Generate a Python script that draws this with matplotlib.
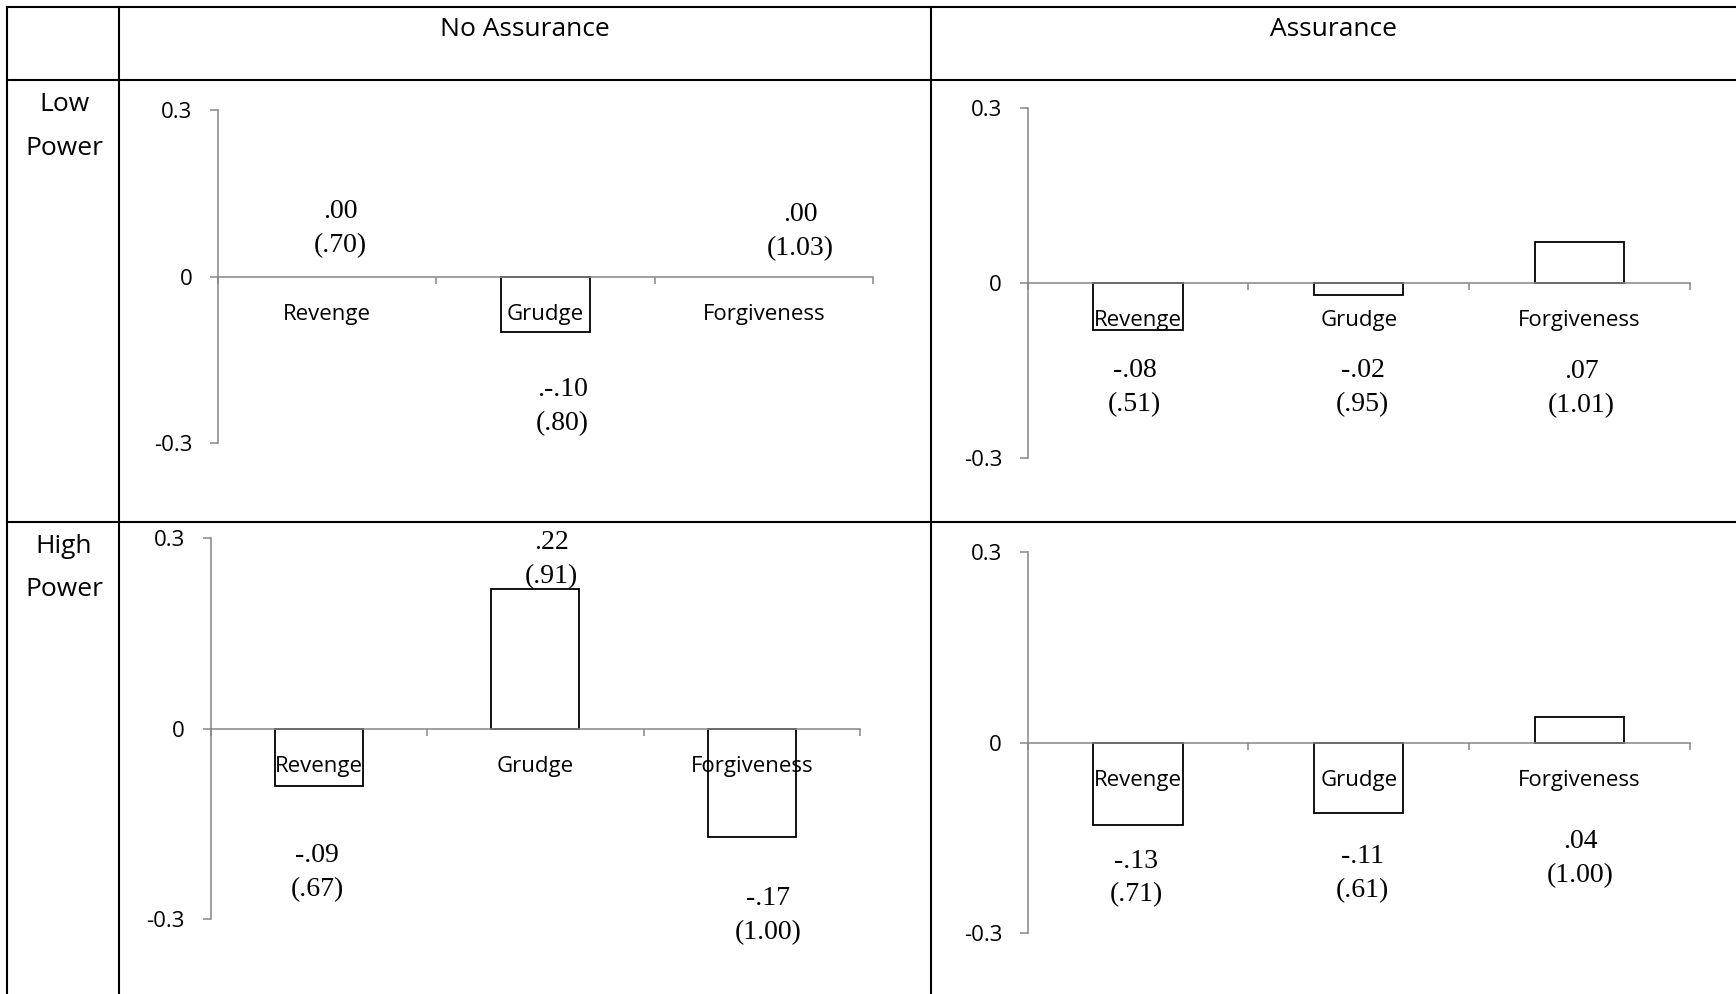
import matplotlib
matplotlib.use("Agg")
import matplotlib.pyplot as plt
from matplotlib.lines import Line2D

# ---------------- data ----------------
categories = ["Revenge", "Grudge", "Forgiveness"]
column_titles = ["No Assurance", "Assurance"]
row_titles = [["Low", "Power"], ["High", "Power"]]

no_assure_low_means = [0.00, -0.10, 0.00]
no_assure_low_mtext = [".00", ".-.10", ".00"]
no_assure_low_sds = ["(.70)", "(.80)", "(1.03)"]

assure_low_means = [-0.08, -0.02, 0.07]
assure_low_mtext = ["-.08", "-.02", ".07"]
assure_low_sds = ["(.51)", "(.95)", "(1.01)"]

no_assure_high_means = [-0.09, 0.22, -0.17]
no_assure_high_mtext = ["-.09", ".22", "-.17"]
no_assure_high_sds = ["(.67)", "(.91)", "(1.00)"]

assure_high_means = [-0.13, -0.11, 0.04]
assure_high_mtext = ["-.13", "-.11", ".04"]
assure_high_sds = ["(.71)", "(.61)", "(1.00)"]

y_ticks = [-0.3, 0.0, 0.3]
y_tick_labels = ["-0.3", "0", "0.3"]

# ---------------- layout (pixels) ----------------
W, H = 1736, 994
fig = plt.figure(figsize=(W / 100, H / 100), dpi=100)

SANS = ["Open Sans", "DejaVu Sans"]
SERIF = ["Liberation Serif", "DejaVu Serif"]
GREY = "#868686"


def fx(x):
    return x / W


def fy(y):
    return 1 - y / H


# table lines
lw_tab = 1.5
for y in [7, 80, 521.7]:
    fig.add_artist(Line2D([fx(7), fx(W)], [fy(y), fy(y)], color="black", lw=lw_tab))
for x in [7, 119, 930.7]:
    fig.add_artist(Line2D([fx(x), fx(x)], [fy(7), fy(H)], color="black", lw=lw_tab))

# headers
fig.text(fx(525), fy(30), column_titles[0], ha="center", va="center", fontsize=19, family=SANS)
fig.text(fx(1334), fy(30), column_titles[1], ha="center", va="center", fontsize=19, family=SANS)
for (l1, l2), (y1, y2) in zip(row_titles, [(104.5, 148.5), (546.5, 590)]):
    fig.text(fx(64), fy(y1), l1, ha="center", va="center", fontsize=19, family=SANS)
    fig.text(fx(64), fy(y2), l2, ha="center", va="center", fontsize=19, family=SANS)

panels = [
    # (x0, x1, ytop, ybot), means, mean texts, sd texts, label centres (x, y data)
    ((218, 873, 110, 443.4), no_assure_low_means, no_assure_low_mtext, no_assure_low_sds,
     [(0.06, 0.086), (1.078, -0.233), (2.168, 0.082)]),
    ((1027.8, 1689.8, 108.3, 458.3), assure_low_means, assure_low_mtext, assure_low_sds,
     [(-0.017, -0.178), (1.017, -0.178), (2.01, -0.180)]),
    ((210.6, 860, 538.3, 919.3), no_assure_high_means, no_assure_high_mtext, no_assure_high_sds,
     [(-0.007, -0.226), (1.075, 0.266), (2.075, -0.294)]),
    ((1027.8, 1689.8, 552.3, 933.3), assure_high_means, assure_high_mtext, assure_high_sds,
     [(-0.009, -0.213), (1.017, -0.206), (2.004, -0.182)]),
]

HALF_GAP = 17  # pixels from the centre of a two-line label to each line

for (x0, x1, yt, yb), means, mtext, sds, lpos in panels:
    ax = fig.add_axes([fx(x0), fy(yb), (x1 - x0) / W, (yb - yt) / H])
    ax.set_xlim(-0.5, 2.5)
    ax.set_ylim(-0.3, 0.3)
    xs = list(range(len(categories)))
    ax.bar(xs, means, width=0.405, facecolor="white",
           edgecolor=["black" if m != 0 else "none" for m in means],
           linewidth=1.3, zorder=2)
    for sp in ["top", "right"]:
        ax.spines[sp].set_visible(False)
    ax.spines["bottom"].set_position(("data", 0))
    for sp in ["bottom", "left"]:
        ax.spines[sp].set_color(GREY)
        ax.spines[sp].set_linewidth(1.1)
    ax.xaxis.set_zorder(4)
    ax.yaxis.set_zorder(4)

    ax.set_xticks(xs)
    ax.set_xticklabels(categories, fontsize=16, family=SANS)
    ax.set_xticks([-0.5, 0.5, 1.5, 2.5], minor=True)
    ax.tick_params(axis="x", which="major", length=0, pad=19.5)
    ax.tick_params(axis="x", which="minor", length=5.2, width=1.1, color=GREY, direction="out")

    ax.set_yticks(y_ticks)
    ax.set_yticklabels(y_tick_labels, fontsize=16, family=SANS)
    ax.tick_params(axis="y", length=5.5, width=1.1, color=GREY, pad=13)
    ax.patch.set_visible(False)

    for (lx, ly), mt, sd in zip(lpos, mtext, sds):
        ax.annotate(mt, (lx, ly), xytext=(0, HALF_GAP), textcoords="offset pixels",
                    ha="center", va="center", fontsize=20, family=SERIF, zorder=6)
        ax.annotate(sd, (lx, ly), xytext=(0, -HALF_GAP), textcoords="offset pixels",
                    ha="center", va="center", fontsize=20, family=SERIF, zorder=6)

fig.savefig("out.png", dpi=100)
